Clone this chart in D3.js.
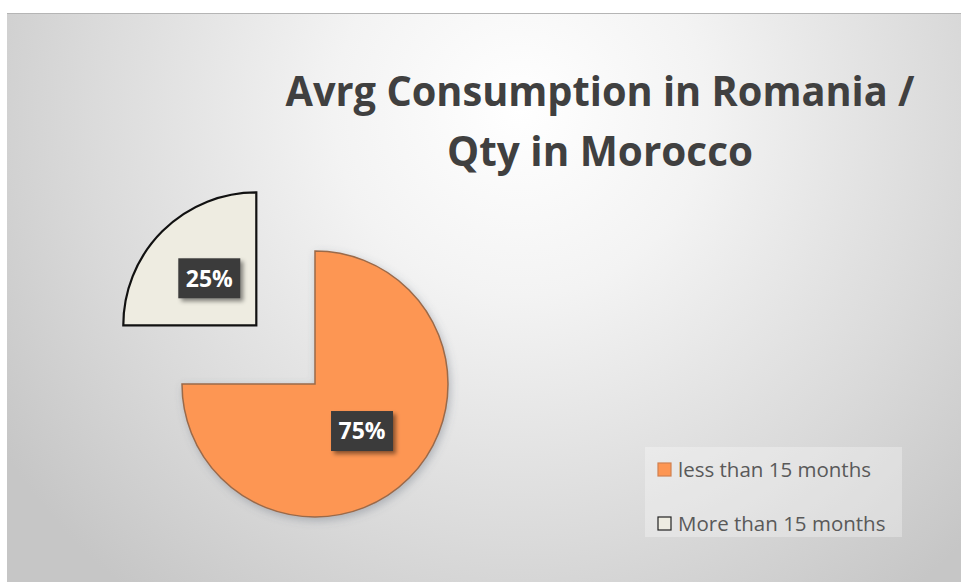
<!DOCTYPE html>
<html>
<title>Avrg Consumption in Romania / Qty in Morocco</title>
<style>
  body {
    margin: 0px;
    background: #fff;
  }
  svg {
    display: block;
  }
  .title {
    font-family: "Open Sans", sans-serif;
    font-weight: bold;
    fill: #404040;
  }
  .legend text {
    font-family: "Open Sans", sans-serif;
    fill: #595959;
  }
  .label text {
    font-family: "Open Sans", sans-serif;
    font-weight: bold;
    fill: #fff;
  }
</style>
<script src="https://cdn.jsdelivr.net/npm/d3@7"></script>
<body>
<svg></svg>
<script>

const categories = ["less than 15 months", "More than 15 months"];
const values = [75, 25];
const labels = ["75%", "25%"];
const colors = ["#fd9653", "#eeece1"];
const strokes = ["#9a6a4a", "#111"];
const titleLines = ["Avrg Consumption in Romania /", "Qty in Morocco"];
const titleWidths = [629, 306];

const width = 961, height = 582;

const svg = d3.select("svg")
    .attr("width", width)
    .attr("height", height);

const defs = svg.append("defs");

// background gradient
const grad = defs.append("radialGradient")
    .attr("id", "bg")
    .attr("gradientUnits", "userSpaceOnUse")
    .attr("cx", 520).attr("cy", 110).attr("r", 620);
grad.append("stop").attr("offset", 0).attr("stop-color", "#ffffff");
grad.append("stop").attr("offset", 0.3).attr("stop-color", "#f3f3f3");
grad.append("stop").attr("offset", 0.7).attr("stop-color", "#dadada");
grad.append("stop").attr("offset", 1).attr("stop-color", "#c6c6c6");

const shadow = defs.append("filter")
    .attr("id", "shadow")
    .attr("x", "-20%").attr("y", "-20%")
    .attr("width", "140%").attr("height", "140%");
shadow.append("feDropShadow")
    .attr("dx", 2).attr("dy", 3)
    .attr("stdDeviation", 4)
    .attr("flood-color", "#556070")
    .attr("flood-opacity", 0.35);

const boxShadow = defs.append("filter")
    .attr("id", "boxShadow")
    .attr("x", "-30%").attr("y", "-30%")
    .attr("width", "160%").attr("height", "160%");
boxShadow.append("feDropShadow")
    .attr("dx", 3).attr("dy", 3)
    .attr("stdDeviation", 2)
    .attr("flood-color", "#000")
    .attr("flood-opacity", 0.45);

svg.append("rect")
    .attr("x", 7).attr("y", 13)
    .attr("width", width - 7).attr("height", height - 13)
    .attr("fill", "url(#bg)");

svg.append("line")
    .attr("x1", 7).attr("x2", width)
    .attr("y1", 13.5).attr("y2", 13.5)
    .attr("stroke", "#b5b5b5");

// title, squeezed a little so the Calibri-like widths hold
const title = svg.append("g");
title.selectAll("text")
    .data(titleLines)
  .enter().append("text")
    .attr("class", "title")
    .attr("x", 600)
    .attr("y", function(d, i) {return 106 + i * 60})
    .attr("text-anchor", "middle")
    .attr("textLength", function(d, i) {return titleWidths[i]})
    .attr("lengthAdjust", "spacingAndGlyphs")
    .style("font-size", "41px")
    .text(function(d) {return d});

// pie
const cx = 315, cy = 384, r = 133, explode = 83;

const pie = d3.pie().sort(null).value(function(d) {return d});
const arc = d3.arc().innerRadius(0).outerRadius(r);
const arcs = pie(values);

const slices = svg.append("g")
    .attr("transform", "translate(" + cx + "," + cy + ")");

const slice = slices.selectAll("g.slice")
    .data(arcs)
  .enter().append("g")
    .attr("class", "slice")
    .attr("transform", function(d, i) {
      if (i === 0) return null;
      const a = (d.startAngle + d.endAngle) / 2;
      return "translate(" + (Math.sin(a) * explode) + "," + (-Math.cos(a) * explode) + ")";
    });

slice.append("path")
    .attr("d", arc)
    .attr("fill", function(d, i) {return colors[i]})
    .attr("stroke", function(d, i) {return strokes[i]})
    .attr("stroke-width", function(d, i) {return i === 0 ? 1.5 : 2.2})
    .attr("stroke-linejoin", "miter")
    .attr("filter", function(d, i) {return i === 0 ? "url(#shadow)" : null});

const label = slice.append("g")
    .attr("class", "label")
    .attr("transform", function(d) {
      const c = arc.centroid(d);
      return "translate(" + c[0] + "," + c[1] + ")";
    });

label.append("rect")
    .attr("x", -31).attr("y", -20)
    .attr("width", 62).attr("height", 40)
    .attr("fill", "#3b3b3b")
    .attr("filter", "url(#boxShadow)");

label.append("text")
    .attr("text-anchor", "middle")
    .attr("dy", "0.36em")
    .style("font-size", "23px")
    .text(function(d, i) {return labels[i]});

// legend
const legend = svg.append("g")
    .attr("class", "legend")
    .attr("transform", "translate(645,447)");

legend.append("rect")
    .attr("width", 257).attr("height", 90)
    .attr("fill", "#ffffff")
    .attr("fill-opacity", 0.3);

const item = legend.selectAll("g.item")
    .data(categories)
  .enter().append("g")
    .attr("class", "item")
    .attr("transform", function(d, i) {return "translate(13," + (16 + i * 54) + ")"});

item.append("rect")
    .attr("width", 13).attr("height", 13)
    .attr("fill", function(d, i) {return colors[i]})
    .attr("stroke", function(d, i) {return i === 0 ? "#d08050" : "#222"})
    .attr("stroke-width", 1.2);

item.append("text")
    .attr("x", 20)
    .attr("y", 14)
    .style("font-size", "20.5px")
    .text(function(d) {return d});

</script>
</body>
</html>
